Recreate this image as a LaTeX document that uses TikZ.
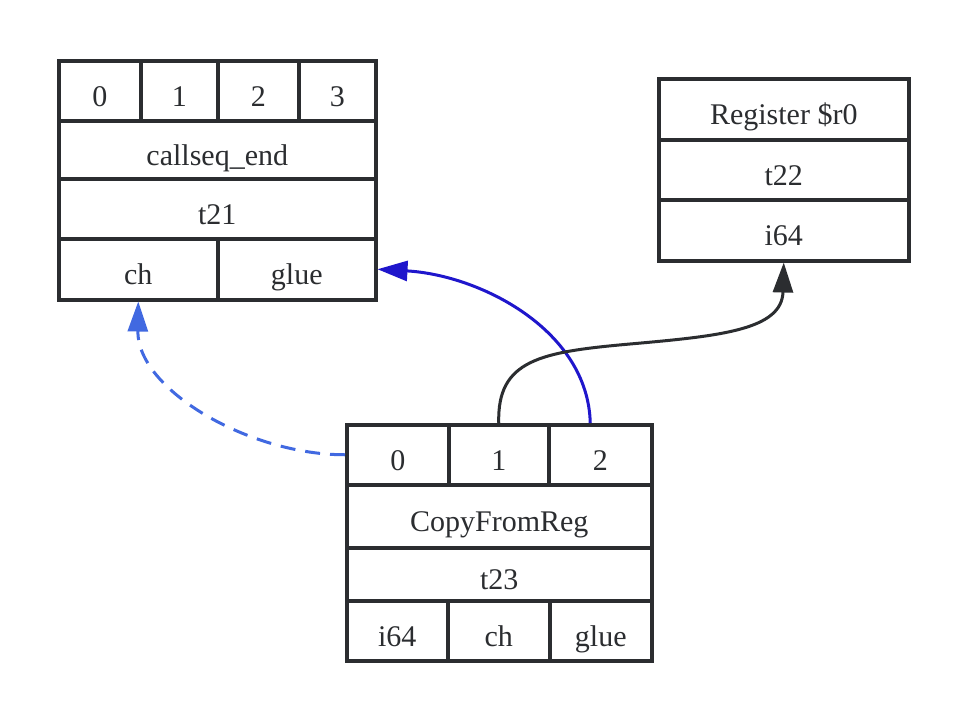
\documentclass[tikz,border=0pt]{standalone}
\usepackage{fontspec}
\setmainfont{Liberation Serif}
\usetikzlibrary{arrows.meta}
\definecolor{boxline}{HTML}{2B2D30}
\definecolor{chainblue}{HTML}{4169E1}
\definecolor{glueblue}{HTML}{1F16CC}
\tikzset{every picture/.style={font issue=\fontsize{30}{36}},
         font issue/.style={execute at begin picture={#1\selectfont}},
         cell/.style={draw=boxline, line width=3.5pt, inner sep=0pt, anchor=north west, text=boxline,
                      text height=31pt, text depth=0pt},
         edge/.style={line width=3pt, -{Triangle[length=30pt, width=20pt]}}
        }
\begin{document}
\begin{tikzpicture}[x=1pt, y=-1pt]
        \useasboundingbox [fill=white] (0,0) rectangle (964,720);
        % callseq_end
        \node [cell, minimum width=82pt, minimum height=60pt] (t21p0) at (57,59) {0};
        \node [cell, minimum width=77pt, minimum height=60pt] (t21p1) at (139,59) {1};
        \node [cell, minimum width=81pt, minimum height=60pt] (t21p2) at (216,59) {2};
        \node [cell, minimum width=77pt, minimum height=60pt] (t21p3) at (297,59) {3};
        \node [cell, minimum width=317pt, minimum height=58pt] (t21op) at (57,119) {callseq\_end};
        \node [cell, minimum width=317pt, minimum height=60pt] (t21id) at (57,177) {t21};
        \node [cell, minimum width=159pt, minimum height=61pt] (t21ch) at (57,237) {ch};
        \node [cell, minimum width=158pt, minimum height=61pt] (t21glue) at (216,237) {glue};
        % Register $r0
        \node [cell, minimum width=250pt, minimum height=61pt] (t22op) at (657,77) {Register \$r0};
        \node [cell, minimum width=250pt, minimum height=60pt] (t22id) at (657,138) {t22};
        \node [cell, minimum width=250pt, minimum height=61pt] (t22i64) at (657,198) {i64};
        % CopyFromReg
        \node [cell, minimum width=102pt, minimum height=60pt] (t23p0) at (345,423) {0};
        \node [cell, minimum width=100pt, minimum height=60pt] (t23p1) at (447,423) {1};
        \node [cell, minimum width=103pt, minimum height=60pt] (t23p2) at (547,423) {2};
        \node [cell, minimum width=305pt, minimum height=63pt] (t23op) at (345,483) {CopyFromReg};
        \node [cell, minimum width=305pt, minimum height=53pt] (t23id) at (345,546) {t23};
        \node [cell, minimum width=101pt, minimum height=60pt] (t23i64) at (345,599) {i64};
        \node [cell, minimum width=102pt, minimum height=60pt] (t23ch) at (446,599) {ch};
        \node [cell, minimum width=102pt, minimum height=60pt] (t23glue) at (548,599) {glue};
        % edges
        \draw [edge, chainblue, dash pattern=on 15pt off 10pt] (t23p0.west) .. controls (250,455) and (137,390) .. (t21ch.south);
        \draw [edge, glueblue] ([xshift=-10pt]t23p2.north) .. controls (588,330) and (480,275) .. (t21glue.east);
        \draw [edge, boxline] (t23p1.north) .. controls (497,360) and (540,352) .. (630,344) .. controls (720,336) and (782,330) .. (t22i64.south);
      \end{tikzpicture}
\end{document}
